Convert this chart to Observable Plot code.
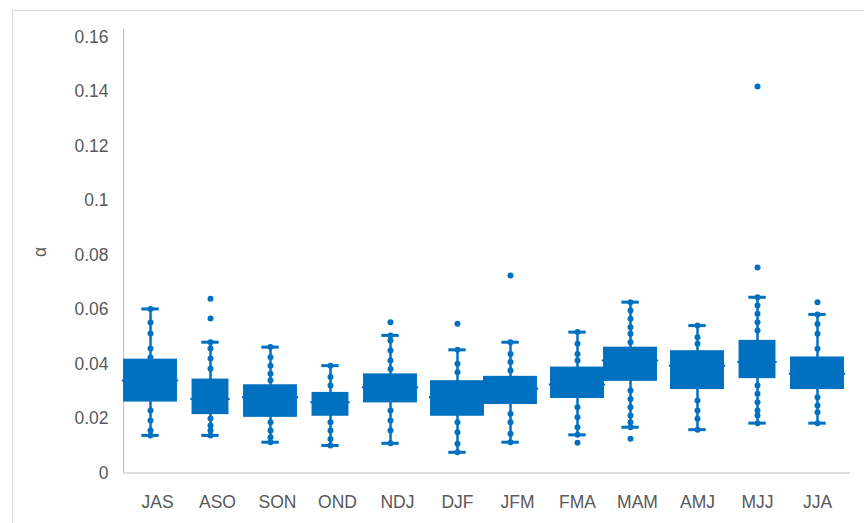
<!DOCTYPE html>
<html>
<head>
<meta charset="utf-8">
<script src="https://cdn.jsdelivr.net/npm/d3@7"></script>
<script src="https://cdn.jsdelivr.net/npm/@observablehq/plot@0.6"></script>
<style>
  html, body { margin: 0; padding: 0; background: #fff; overflow: hidden; }
  #wrap { position: relative; width: 864px; height: 523px; overflow: hidden; }
  #border { position: absolute; left: 12px; top: 10px; width: 900px; height: 600px; border: 1px solid #d9d9d9; box-sizing: border-box; }
  #chart { position: absolute; left: 0; top: 0; }
</style>
</head>
<body>
<div id="wrap"><div id="border"></div><div id="chart"></div></div>
<script>
// ---- data ----
const categories = ["JAS","ASO","SON","OND","NDJ","DJF","JFM","FMA","MAM","AMJ","MJJ","JJA"];
const whiskerHigh = [0.0602,0.0480,0.0462,0.0394,0.0505,0.0452,0.0480,0.0517,0.0627,0.0541,0.0645,0.0582];
const q3          = [0.0415,0.0342,0.0321,0.0293,0.0361,0.0336,0.0352,0.0386,0.0459,0.0446,0.0484,0.0423];
const median      = [0.0339,0.0272,0.0278,0.0260,0.0315,0.0278,0.0309,0.0325,0.0413,0.0394,0.0407,0.0364];
const q1          = [0.0263,0.0217,0.0207,0.0211,0.0260,0.0211,0.0254,0.0276,0.0339,0.0309,0.0349,0.0309];
const whiskerLow  = [0.0138,0.0138,0.0113,0.0101,0.0109,0.0076,0.0113,0.0140,0.0168,0.0159,0.0183,0.0183];
const points = [
  [0.0602,0.0552,0.0512,0.0457,0.0424,0.0380,0.0340,0.0300,0.0229,0.0193,0.0156,0.0138],
  [0.0639,0.0567,0.0480,0.0457,0.0420,0.0383,0.0300,0.0200,0.0174,0.0156,0.0138],
  [0.0462,0.0425,0.0394,0.0364,0.0340,0.0250,0.0186,0.0156,0.0131,0.0113],
  [0.0394,0.0352,0.0321,0.0240,0.0186,0.0156,0.0125,0.0101],
  [0.0553,0.0505,0.0486,0.0450,0.0413,0.0382,0.0300,0.0229,0.0193,0.0156,0.0109],
  [0.0548,0.0452,0.0401,0.0370,0.0250,0.0186,0.0150,0.0107,0.0076],
  [0.0725,0.0480,0.0437,0.0407,0.0376,0.0300,0.0217,0.0186,0.0144,0.0113],
  [0.0517,0.0474,0.0437,0.0413,0.0340,0.0241,0.0205,0.0168,0.0140,0.0111],
  [0.0627,0.0596,0.0566,0.0535,0.0511,0.0480,0.0380,0.0303,0.0272,0.0241,0.0211,0.0186,0.0168,0.0126],
  [0.0541,0.0498,0.0474,0.0350,0.0266,0.0229,0.0199,0.0159],
  [0.1418,0.0754,0.0645,0.0615,0.0584,0.0553,0.0523,0.0420,0.0321,0.0291,0.0260,0.0229,0.0211,0.0183],
  [0.0627,0.0582,0.0547,0.0511,0.0456,0.0340,0.0278,0.0248,0.0223,0.0183]
];
const yTicks = [0, 0.02, 0.04, 0.06, 0.08, 0.1, 0.12, 0.14, 0.16];

// ---- tables built from the arrays ----
const boxes = categories.map((cat, i) => ({cat, lo: whiskerLow[i], q1: q1[i], med: median[i], q3: q3[i], hi: whiskerHigh[i]}));
const dots = categories.flatMap((cat, i) => points[i].map(value => ({cat, value})));

// ---- styling ----
const blue = "#0070C0";
const axisGray = "#bfbfbf";
const textGray = "#595959";
const shiftedLeft = new Set(["JAS","ASO","SON","OND","NDJ","JFM","MAM"]);
const narrow = new Set(["ASO","OND","MJJ"]);

function group(test, dx, boxInset) {
  const f = d => test(d.cat);
  return [
    Plot.ruleX(boxes, {filter: f, x: "cat", y1: "lo", y2: "hi", stroke: blue, strokeWidth: 2.5, dx}),
    Plot.tickY(boxes, {filter: f, x: "cat", y: "hi", stroke: blue, strokeWidth: 3, insetLeft: 21.3, insetRight: 21.3, dx}),
    Plot.tickY(boxes, {filter: f, x: "cat", y: "lo", stroke: blue, strokeWidth: 3, insetLeft: 21.3, insetRight: 21.3, dx}),
    Plot.rectY(boxes, {filter: f, x: "cat", y1: "q1", y2: "q3", fill: blue, stroke: blue, strokeWidth: 1.5, insetLeft: boxInset, insetRight: boxInset, dx}),
    Plot.tickY(boxes, {filter: f, x: "cat", y: "med", stroke: blue, strokeWidth: 2, insetLeft: boxInset - 2, insetRight: boxInset - 2, dx}),
    Plot.dot(dots, {filter: f, x: "cat", y: "value", r: 3, fill: blue, dx})
  ];
}

const wideInset = 3.8, narrowInset = 12.3;
const fontSize = 17.5;

const chart = Plot.plot({
  width: 864,
  height: 523,
  marginLeft: 123,
  marginRight: 14,
  marginTop: 36.5,
  marginBottom: 50.5,
  style: {fontFamily: "'Liberation Sans', Arial, sans-serif", fontSize: fontSize + "px", color: textGray, background: "transparent"},
  x: {domain: categories, padding: 0, label: null},
  y: {domain: [0, 0.16], label: null},
  marks: [
    Plot.ruleY([0], {stroke: axisGray, strokeWidth: 1}),
    (index, scales, values, dims) => {
      const line = document.createElementNS("http://www.w3.org/2000/svg", "line");
      const x = dims.marginLeft + 0.5;
      line.setAttribute("x1", x); line.setAttribute("x2", x);
      line.setAttribute("y1", scales.y(0.16) - 8); line.setAttribute("y2", scales.y(0));
      line.setAttribute("stroke", axisGray);
      return line;
    },
    Plot.axisY({ticks: yTicks, tickSize: 0, tickPadding: 15, tickFormat: d => String(+d.toFixed(2)), fill: textGray, fontSize}),
    Plot.axisX({tickSize: 0, tickPadding: 23, fill: textGray, fontSize}),
    Plot.text(["α"], {frameAnchor: "left", dx: -83, dy: 2, rotate: -90, fill: textGray, fontSize}),
    ...group(c => shiftedLeft.has(c) && !narrow.has(c), -7, wideInset),
    ...group(c => shiftedLeft.has(c) && narrow.has(c), -7, narrowInset),
    ...group(c => !shiftedLeft.has(c) && !narrow.has(c), 0, wideInset),
    ...group(c => !shiftedLeft.has(c) && narrow.has(c), 0, narrowInset)
  ]
});
document.getElementById("chart").appendChild(chart);
</script>
</body>
</html>
